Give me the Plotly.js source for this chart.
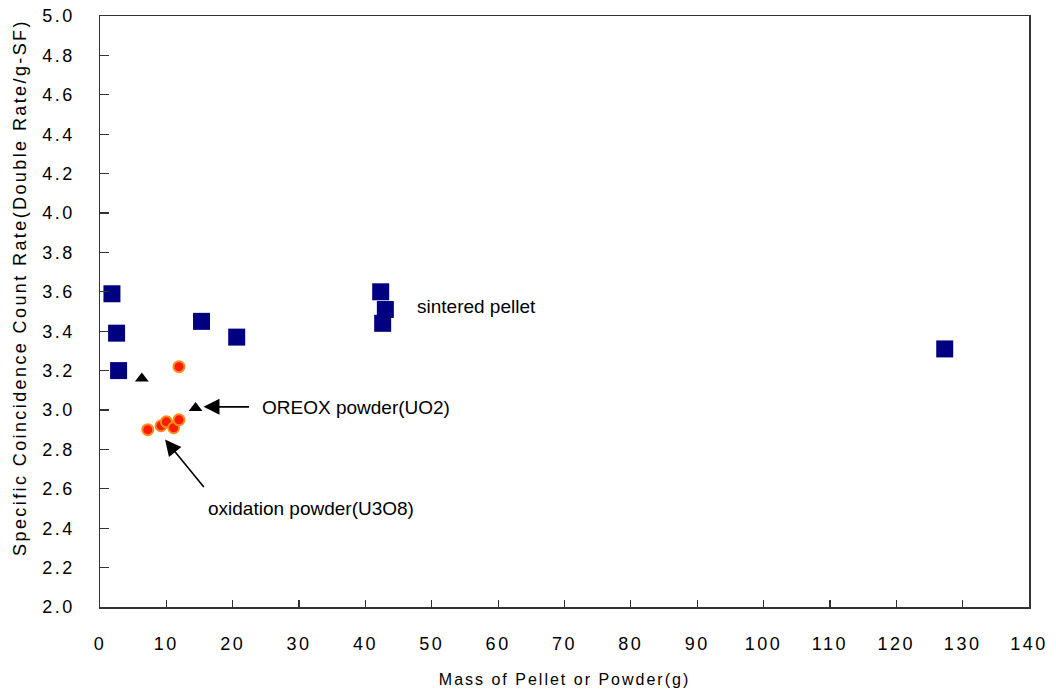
<!DOCTYPE html>
<html>
<head>
<meta charset="utf-8">
<script src="https://cdn.plot.ly/plotly-3.0.1.min.js"></script>
<style>
html, body { margin: 0; padding: 0; background: #fff; }
#chart { width: 1056px; height: 697px; }
.main-svg .xtick text, .main-svg .ytick text { letter-spacing: 2.5px; }
.main-svg .xtitle { letter-spacing: 2px; }
.main-svg .ytitle { letter-spacing: 2.4px; translate: 0px -24px; }
</style>
</head>
<body>
<div id="chart"></div>
<script>
// Sintered pellet (squares)
const pelletMass = [1.8, 2.5, 2.8, 15.3, 20.6, 42.3, 43.0, 42.6, 127.3];
const pelletRate = [3.59, 3.39, 3.20, 3.45, 3.37, 3.60, 3.51, 3.44, 3.31];
// OREOX powder (UO2) (triangles)
const oreoxMass = [6.3, 14.4];
const oreoxRate = [3.16, 3.01];
// Oxidation powder (U3O8) (circles)
const oxMass = [7.2, 9.2, 10.0, 11.1, 11.9, 11.9];
const oxRate = [2.90, 2.92, 2.94, 2.91, 2.95, 3.22];

const xTitle = 'Mass of Pellet or Powder(g)';
const yTitle = 'Specific Coincidence Count Rate(Double Rate/g-SF)';

const fontFam = '"Liberation Sans", Arial, sans-serif';

const traces = [
  {
    type: 'scatter', mode: 'markers', name: 'sintered pellet',
    x: pelletMass, y: pelletRate,
    marker: { symbol: 'square', size: 17, color: '#000080' },
    cliponaxis: false
  },
  {
    type: 'scatter', mode: 'markers', name: 'OREOX powder(UO2)',
    x: oreoxMass, y: oreoxRate,
    marker: { symbol: 'triangle-up', size: 12, color: '#000000' },
    cliponaxis: false
  },
  {
    type: 'scatter', mode: 'markers', name: 'oxidation powder(U3O8)',
    x: oxMass, y: oxRate,
    marker: { symbol: 'circle', size: 11, color: '#FF1A00', line: { color: '#FF8C1A', width: 2 } },
    cliponaxis: false
  }
];

const axisCommon = {
  showgrid: false, zeroline: false,
  showline: true, linecolor: '#333333', linewidth: 1.5, mirror: true,
  ticks: 'inside', tickcolor: '#333333', tickwidth: 1.2,
  tickfont: { family: fontFam, size: 18, color: '#000000' }
};

const layout = {
  width: 1056, height: 697,
  margin: { l: 100, r: 27, t: 16, b: 90 },
  paper_bgcolor: '#ffffff', plot_bgcolor: '#ffffff',
  showlegend: false,
  font: { family: fontFam, color: '#000000' },
  xaxis: Object.assign({}, axisCommon, {
    range: [0, 140], tick0: 0, dtick: 10, ticklen: 7,
    ticklabelstandoff: 20,
    title: { text: xTitle, font: { family: fontFam, size: 16, color: '#000000' }, standoff: 20 }
  }),
  yaxis: Object.assign({}, axisCommon, {
    range: [2.0, 5.0], tick0: 2.0, dtick: 0.2, ticklen: 9, tickformat: '.1f',
    ticklabelstandoff: 20,
    title: { text: yTitle, font: { family: fontFam, size: 18, color: '#000000' }, standoff: 18 }
  }),
  annotations: [
    { x: 15.6, y: 3.016, xref: 'x', yref: 'y', text: '', showarrow: true,
      ax: 47, ay: 0, arrowhead: 2, arrowsize: 2, arrowwidth: 1.6, arrowcolor: '#000000' },
    { x: 9.8, y: 2.85, xref: 'x', yref: 'y', text: '', showarrow: true,
      ax: 40, ay: 49, arrowhead: 2, arrowsize: 2, arrowwidth: 1.6, arrowcolor: '#000000' },
    { x: 24.1, y: 3.014, xref: 'x', yref: 'y', text: 'OREOX powder(UO2)', showarrow: false,
      xanchor: 'left', yanchor: 'middle', font: { family: fontFam, size: 19, color: '#000000' } },
    { x: 31.8, y: 2.50, xref: 'x', yref: 'y', text: 'oxidation powder(U3O8)', showarrow: false,
      xanchor: 'center', yanchor: 'middle', font: { family: fontFam, size: 19, color: '#000000' } },
    { x: 47.5, y: 3.524, xref: 'x', yref: 'y', text: 'sintered pellet', showarrow: false,
      xanchor: 'left', yanchor: 'middle', font: { family: fontFam, size: 19, color: '#000000' } }
  ]
};

Plotly.newPlot('chart', traces, layout, { displayModeBar: false, staticPlot: true });
</script>
</body>
</html>
